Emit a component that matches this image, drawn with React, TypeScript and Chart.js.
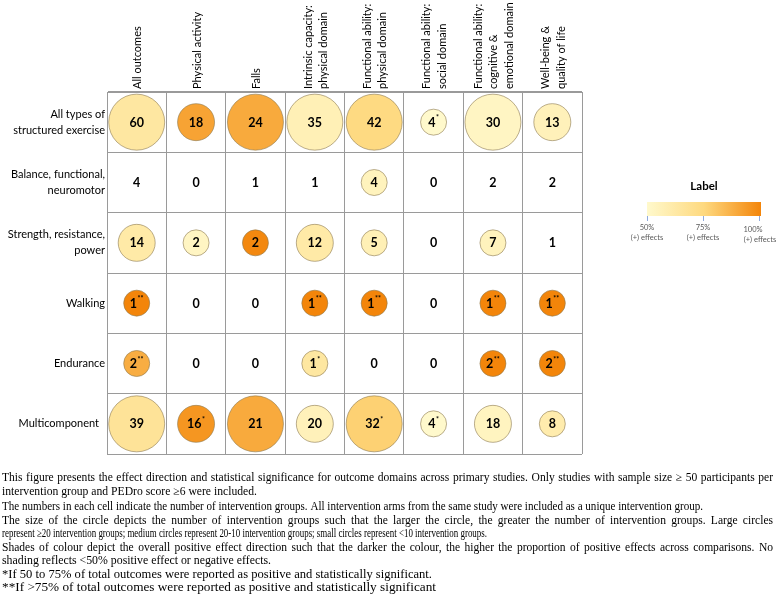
import React, { useEffect, useRef } from "react";
import { Chart, registerables } from "chart.js";

Chart.register(...registerables);

// ---- categories ----
const columnLabels: string[][] = [
  ["All outcomes"],
  ["Physical activity"],
  ["Falls"],
  ["Intrinsic capacity:", "physical domain"],
  ["Functional ability:", "physical domain"],
  ["Functional ability:", "social domain"],
  ["Functional ability:", "cognitive &", "emotional domain"],
  ["Well-being &", "quality of life"],
];

const rowLabels: string[][] = [
  ["All types of", "structured exercise"],
  ["Balance, functional,", "neuromotor"],
  ["Strength, resistance,", "power"],
  ["Walking"],
  ["Endurance"],
  ["Multicomponent"],
];

// ---- number of intervention groups per cell ----
const allTypesCounts = [60, 18, 24, 35, 42, 4, 30, 13];
const balanceCounts = [4, 0, 1, 1, 4, 0, 2, 2];
const strengthCounts = [14, 2, 2, 12, 5, 0, 7, 1];
const walkingCounts = [1, 0, 0, 1, 1, 0, 1, 1];
const enduranceCounts = [2, 0, 0, 1, 0, 0, 2, 2];
const multicomponentCounts = [39, 16, 21, 20, 32, 4, 18, 8];

// ---- proportion of positive effects (null = no shading) ----
const allTypesShare = [0.64, 0.91, 0.89, 0.57, 0.74, 0.5, 0.53, 0.56];
const balanceShare = [null, null, null, null, 0.55, null, null, null];
const strengthShare = [0.62, 0.53, 0.99, 0.62, 0.57, null, 0.55, null];
const walkingShare = [1, null, null, 1, 1, null, 1, 1];
const enduranceShare = [0.88, null, null, 0.64, null, null, 1, 1];
const multicomponentShare = [0.67, 0.95, 0.89, 0.56, 0.775, 0.5, 0.54, 0.6];

// ---- significance markers ----
const allTypesSig = ["", "", "", "", "", "*", "", ""];
const balanceSig = ["", "", "", "", "", "", "", ""];
const strengthSig = ["", "", "", "", "", "", "", ""];
const walkingSig = ["**", "", "", "**", "**", "", "**", "**"];
const enduranceSig = ["**", "", "", "*", "", "", "**", "**"];
const multicomponentSig = ["", "*", "", "", "*", "*", "", ""];

const counts = [allTypesCounts, balanceCounts, strengthCounts, walkingCounts, enduranceCounts, multicomponentCounts];
const shares = [allTypesShare, balanceShare, strengthShare, walkingShare, enduranceShare, multicomponentShare];
const sigs = [allTypesSig, balanceSig, strengthSig, walkingSig, enduranceSig, multicomponentSig];

// ---- legend tick labels ----
const legendTicks = ["50%", "75%", "100%"];

// ---- caption lines ----
const captionLines = [
  "This figure presents the effect direction and statistical significance for outcome domains across primary studies. Only studies with sample size \u2265 50 participants per",
  "intervention group and PEDro score \u22656 were included.",
  "The numbers in each cell indicate the number of intervention groups. All intervention arms from the same study were included as a unique intervention group.",
  "The size of the circle depicts the number of intervention groups such that the larger the circle, the greater the number of intervention groups. Large circles",
  "represent \u226520 intervention groups; medium circles represent 20-10 intervention groups; small circles represent <10 intervention groups.",
  "Shades of colour depict the overall positive effect direction such that the darker the colour, the higher the proportion of positive effects across comparisons. No",
  "shading reflects <50% positive effect or negative effects.",
  "*If 50 to 75% of total outcomes were reported as positive and statistically significant.",
  "**If >75% of total outcomes were reported as positive and statistically significant",
];

// layout (not data)
const CAPTION_WIDTHS = [771, 255, 701, 771, 485, 771, 269, 430, 434];
const CAPTION_JUSTIFY = [true, false, false, true, false, true, false, false, false];
const CAPTION_Y = [478, 492, 507, 521, 534, 548, 561, 575, 588];
const ROW_LABEL_SHIFT = [0, 0, 0, 0, 0, -6];

const STOPS: [number, number[]][] = [
  [0.5, [255, 249, 204]],
  [0.75, [254, 217, 127]],
  [1.0, [243, 133, 10]],
];

function shadeColor(s: number): string {
  const v = Math.max(0.5, Math.min(1, s));
  for (let i = 0; i < STOPS.length - 1; i++) {
    const [a, ca] = STOPS[i];
    const [b, cb] = STOPS[i + 1];
    if (v <= b) {
      const t = (v - a) / (b - a);
      const c = ca.map((x, k) => Math.round(x + (cb[k] - x) * t));
      return `rgb(${c[0]},${c[1]},${c[2]})`;
    }
  }
  return "rgb(243,133,10)";
}

function radiusFor(n: number): number {
  if (n > 20) return 28;
  if (n >= 10) return 18.5;
  return 13;
}

const colKeys = columnLabels.map((l) => l.join(" "));
const rowKeys = rowLabels.map((l) => l.join(" "));

const labelPlugin = {
  id: "gridLabels",
  afterDatasetsDraw(chart: any) {
    const ctx = chart.ctx;
    const meta = chart.getDatasetMeta(0);
    ctx.save();
    ctx.fillStyle = "#000";
    ctx.textBaseline = "middle";
    meta.data.forEach((el: any, idx: number) => {
      const raw = chart.data.datasets[0].data[idx];
      const numTxt = String(raw.count);
      ctx.font = "bold 12.5px Lato";
      const w = ctx.measureText(numTxt).width;
      ctx.font = "bold 7px Lato";
      const sw = raw.sig ? ctx.measureText(raw.sig).width + 0.5 : 0;
      const left = el.x - (w + sw) / 2;
      ctx.font = "bold 12.5px Lato";
      ctx.textAlign = "left";
      ctx.fillText(numTxt, left, el.y + 0.5);
      if (raw.sig) {
        ctx.font = "bold 7px Lato";
        ctx.fillText(raw.sig, left + w + 0.5, el.y - 4);
      }
    });
    ctx.restore();
  },
  afterDraw(chart: any) {
    const ctx = chart.ctx;
    const xs = chart.scales.x;
    const ys = chart.scales.y;
    const area = chart.chartArea;
    ctx.save();
    ctx.fillStyle = "#000";
    ctx.font = "11px Lato";
    ctx.textBaseline = "middle";
    // column headers
    ctx.textAlign = "left";
    columnLabels.forEach((lines, j) => {
      const cx = xs.getPixelForValue(j);
      lines.forEach((ln, k) => {
        const off = (k - (lines.length - 1) / 2) * 15.5;
        ctx.save();
        ctx.translate(cx + off + 1, area.top - 3);
        ctx.rotate(-Math.PI / 2);
        ctx.fillText(ln, 0, 0);
        ctx.restore();
      });
    });
    // row labels
    ctx.textAlign = "right";
    rowLabels.forEach((lines, i) => {
      const cy = ys.getPixelForValue(i);
      lines.forEach((ln, k) => {
        ctx.fillText(ln, area.left - 2 + ROW_LABEL_SHIFT[i], cy + (k - (lines.length - 1) / 2) * 16);
      });
    });

    // legend
    const lx0 = 647, lx1 = 761, ly0 = 202, ly1 = 216;
    ctx.textAlign = "center";
    ctx.font = "bold 11.5px Lato";
    ctx.fillText("Label", 704, 186);
    const g = ctx.createLinearGradient(lx0, 0, lx1, 0);
    g.addColorStop(0, shadeColor(0.5));
    g.addColorStop(0.5, shadeColor(0.75));
    g.addColorStop(1, shadeColor(1));
    ctx.fillStyle = g;
    ctx.fillRect(lx0, ly0, lx1 - lx0, ly1 - ly0);
    const tickX = [647, 703, 759];
    ctx.strokeStyle = "#8FAADC";
    ctx.lineWidth = 1;
    tickX.forEach((x) => {
      ctx.beginPath();
      ctx.moveTo(x + 0.5, ly1);
      ctx.lineTo(x + 0.5, ly1 + 5);
      ctx.stroke();
    });
    ctx.fillStyle = "#595959";
    ctx.font = "7.5px Lato";
    const labX = [647, 703, 753];
    const labX2 = [647, 703, 760];
    const labY = [228, 228, 230];
    legendTicks.forEach((t, i) => {
      ctx.fillText(t, labX[i], labY[i]);
      ctx.fillText("(+) effects", labX2[i], labY[i] + 10);
    });

    // caption
    ctx.fillStyle = "#000";
    ctx.textAlign = "left";
    ctx.font = '12px "Liberation Serif"';
    let fsum = 0, fn = 0;
    captionLines.forEach((ln, i) => {
      if (!CAPTION_JUSTIFY[i]) {
        fsum += CAPTION_WIDTHS[i] / ctx.measureText(ln).width;
        fn++;
      }
    });
    const f = fsum / fn;
    captionLines.forEach((ln, i) => {
      const y = CAPTION_Y[i];
      if (!CAPTION_JUSTIFY[i]) {
        const lf = CAPTION_WIDTHS[i] / ctx.measureText(ln).width;
        ctx.save();
        ctx.translate(2, y);
        ctx.scale(lf, 1);
        ctx.fillText(ln, 0, 0);
        ctx.restore();
        return;
      }
      const words = ln.split(" ");
      const ws = words.map((w) => ctx.measureText(w).width * f);
      const total = ws.reduce((a, b) => a + b, 0);
      const gap = (CAPTION_WIDTHS[i] - total) / (words.length - 1);
      let x = 2;
      words.forEach((w, k) => {
        ctx.save();
        ctx.translate(x, y);
        ctx.scale(f, 1);
        ctx.fillText(w, 0, 0);
        ctx.restore();
        x += ws[k] + gap;
      });
    });
    ctx.restore();
  },
};

export default function App() {
  const canvasRef = useRef<HTMLCanvasElement | null>(null);

  useEffect(() => {
    document.body.style.margin = "0";
    const canvas = canvasRef.current;
    if (!canvas) return;

    const points: any[] = [];
    counts.forEach((row, i) => {
      row.forEach((n, j) => {
        const s = shares[i][j];
        points.push({
          x: colKeys[j],
          y: rowKeys[i],
          r: s === null ? 0 : radiusFor(n),
          count: n,
          share: s,
          sig: sigs[i][j],
        });
      });
    });

    const gridColor = "#9a9a9a";
    const chart = new Chart(canvas, {
      type: "bubble",
      data: {
        datasets: [
          {
            data: points,
            backgroundColor: (c: any) => {
              const raw = c.raw;
              return raw && raw.share !== null ? shadeColor(raw.share) : "rgba(0,0,0,0)";
            },
            borderColor: (c: any) => {
              const raw = c.raw;
              return raw && raw.share !== null ? "rgba(140,120,80,0.75)" : "rgba(0,0,0,0)";
            },
            borderWidth: 0.8,
            clip: false as any,
          } as any,
        ],
      },
      options: {
        responsive: false,
        animation: false,
        events: [],
        layout: { padding: { left: 107, top: 92, right: 195, bottom: 144 } },
        plugins: { legend: { display: false }, tooltip: { enabled: false } },
        scales: {
          x: {
            type: "category",
            position: "top",
            labels: colKeys,
            offset: true,
            grid: { offset: true, color: gridColor, lineWidth: 1, drawTicks: false },
            border: { display: true, color: gridColor, width: 1 },
            ticks: { display: false },
          },
          y: {
            type: "category",
            labels: rowKeys,
            offset: true,
            grid: { offset: true, color: gridColor, lineWidth: 1, drawTicks: false },
            border: { display: true, color: gridColor, width: 1 },
            ticks: { display: false },
          },
        },
      } as any,
      plugins: [labelPlugin],
    });
    return () => chart.destroy();
  }, []);

  return (
    <div style={{ width: 777, height: 598, background: "#fff" }}>
      <canvas ref={canvasRef} width={777} height={598} style={{ display: "block" }} />
    </div>
  );
}
